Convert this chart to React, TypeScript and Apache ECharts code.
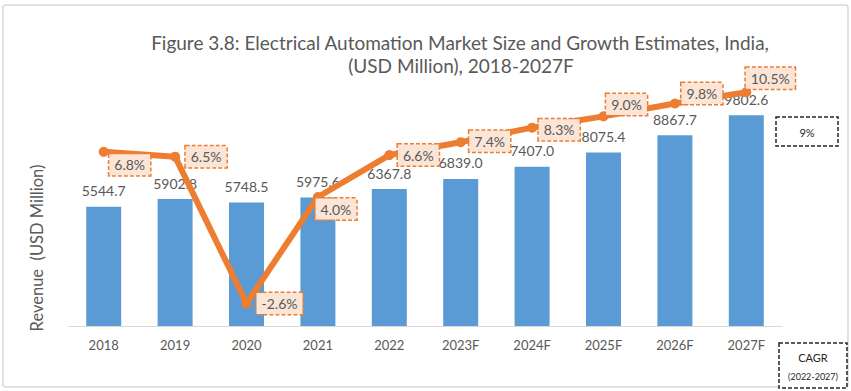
import React, { useEffect, useRef } from "react";
import * as echarts from "echarts";

const categories = ["2018", "2019", "2020", "2021", "2022", "2023F", "2024F", "2025F", "2026F", "2027F"];
const revenue = [5544.7, 5902.8, 5748.5, 5975.6, 6367.8, 6839.0, 7407.0, 8075.4, 8867.7, 9802.6];
const growth = [6.8, 6.5, -2.6, 4.0, 6.6, 7.4, 8.3, 9.0, 9.8, 10.5];
const cagrValue = "9%";
const cagrLabel = "CAGR";
const cagrPeriod = "(2022-2027)";
const titleLines = [
  "Figure 3.8: Electrical Automation Market Size and Growth Estimates, India,",
  "(USD Million), 2018-2027F",
];
const yAxisName = "Revenue  (USD Million)";

// label offsets (layout only)
const growthLabelOffsets: [number, number][] = [
  [26, 13], [31, 0], [33, 0], [18, 12], [29, 0], [29, -1], [27, 2], [23, -12], [27, -10], [24, -14],
];

const FONT = "Lato, 'Noto Sans', sans-serif";

export default function App() {
  const ref = useRef<HTMLDivElement>(null);
  useEffect(() => {
    if (!ref.current) return;
    const chart = echarts.init(ref.current, undefined, { renderer: "svg" });
    chart.setOption({
      animation: false,
      textStyle: { fontFamily: FONT },
      grid: { left: 68, right: 69, top: 68, bottom: 65 },
      xAxis: {
        type: "category",
        data: categories,
        axisLine: { lineStyle: { color: "#D9D9D9", width: 1 } },
        axisTick: { show: false },
        axisLabel: { color: "#595959", fontSize: 13, margin: 12, fontFamily: FONT },
      },
      yAxis: [
        { type: "value", min: 0, max: 12000, show: false },
        { type: "value", min: -4, max: 12, show: false },
      ],
      series: [
        {
          type: "bar",
          data: revenue,
          barWidth: 35,
          z: 2,
          itemStyle: { color: "#5B9BD5" },
          label: {
            show: true,
            position: "top",
            distance: 9,
            color: "#595959",
            fontSize: 14,
            fontFamily: FONT,
            formatter: (p: any) => Number(p.value).toFixed(1),
          },
        },
        {
          type: "line",
          yAxisIndex: 1,
          z: 5,
          data: growth.map((v, i) => ({
            value: v,
            label: { offset: growthLabelOffsets[i] },
          })),
          symbol: "circle",
          symbolSize: 10,
          lineStyle: { color: "#ED7D31", width: 6 },
          itemStyle: { color: "#ED7D31" },
          label: {
            show: true,
            position: "inside",
            color: "#595959",
            fontSize: 14,
            fontFamily: FONT,
            backgroundColor: "#FBE5D6",
            borderColor: "#ED7D31",
            borderWidth: 1.5,
            borderType: [4, 2],
            padding: [4, 5, 3, 5],
            formatter: (p: any) => Number(p.value).toFixed(1) + "%",
          },
        },
      ],
      graphic: [
        {
          type: "rect",
          shape: { x: 3, y: 5, width: 845, height: 382, r: 3 },
          style: { fill: "none", stroke: "#D9D9D9", lineWidth: 1.5 },
          silent: true,
          z: -10,
        },
        {
          type: "text",
          x: 460,
          y: 42,
          style: {
            text: titleLines[0],
            fill: "#595959",
            fontSize: 19,
            fontFamily: FONT,
            textAlign: "center",
            textVerticalAlign: "middle",
          },
        },
        {
          type: "text",
          x: 461,
          y: 65,
          style: {
            text: titleLines[1],
            fill: "#595959",
            fontSize: 19,
            fontFamily: FONT,
            textAlign: "center",
            textVerticalAlign: "middle",
          },
        },
        {
          type: "text",
          x: 37,
          y: 248,
          rotation: Math.PI / 2,
          style: {
            text: yAxisName,
            fill: "#595959",
            fontSize: 16.5,
            fontFamily: FONT,
            textAlign: "center",
            textVerticalAlign: "middle",
          },
        },
        {
          type: "rect",
          shape: { x: 776, y: 117, width: 62, height: 29 },
          style: { fill: "#fff", stroke: "#262626", lineWidth: 1.5, lineDash: [4, 2] },
        },
        {
          type: "text",
          x: 807,
          y: 132,
          style: {
            text: cagrValue,
            fill: "#262626",
            fontSize: 11,
            fontFamily: FONT,
            textAlign: "center",
            textVerticalAlign: "middle",
          },
        },
        {
          type: "rect",
          shape: { x: 779, y: 343, width: 68, height: 45 },
          style: { fill: "#fff", stroke: "#262626", lineWidth: 1.5, lineDash: [4, 2] },
        },
        {
          type: "text",
          x: 813,
          y: 357,
          style: {
            text: cagrLabel,
            fill: "#262626",
            fontSize: 11,
            fontFamily: FONT,
            textAlign: "center",
            textVerticalAlign: "middle",
          },
        },
        {
          type: "text",
          x: 813,
          y: 376,
          style: {
            text: cagrPeriod,
            fill: "#262626",
            fontSize: 9,
            fontFamily: FONT,
            textAlign: "center",
            textVerticalAlign: "middle",
          },
        },
      ],
    });
    return () => chart.dispose();
  }, []);
  return (
    <div
      ref={ref}
      style={{ position: "absolute", left: 0, top: 0, width: 851, height: 391, background: "#fff" }}
    />
  );
}
